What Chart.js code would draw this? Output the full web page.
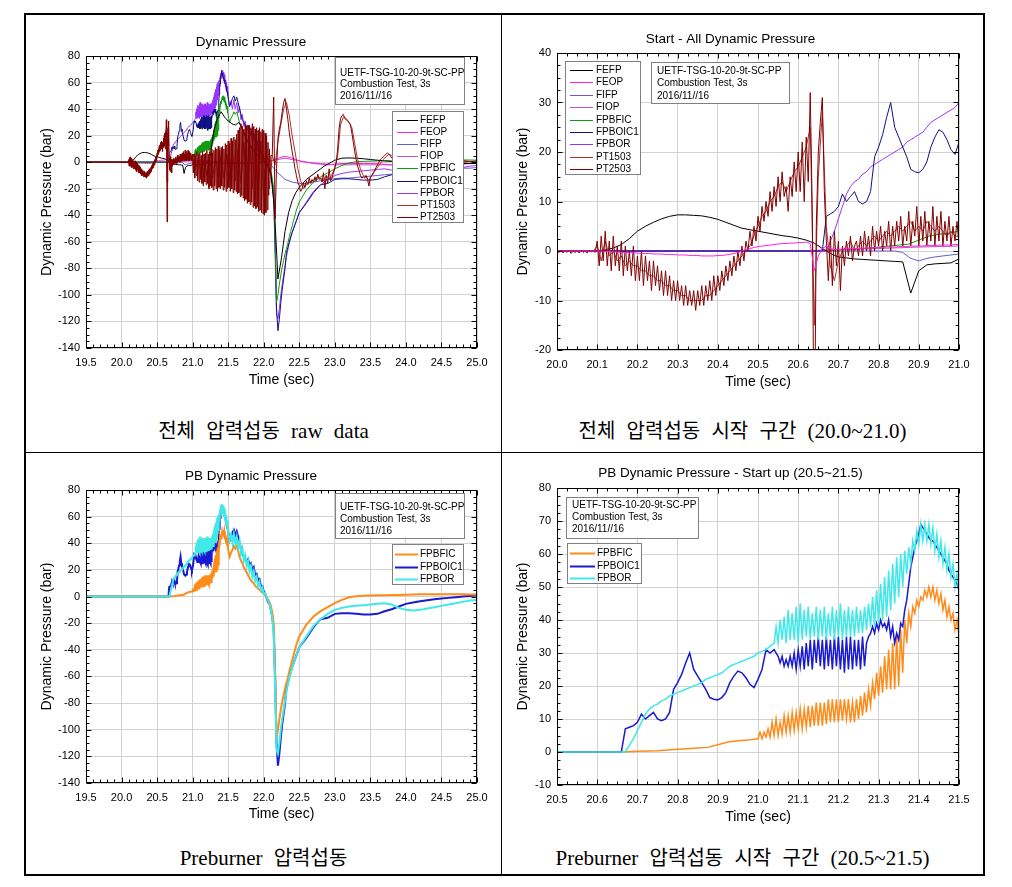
<!DOCTYPE html>
<html>
<head>
<meta charset="utf-8">
<script src="https://cdn.jsdelivr.net/npm/chart.js@4.4.1/dist/chart.umd.min.js"></script>
<style>
  body { margin: 0; background: #fff; }
  #page { position: relative; width: 1012px; height: 887px; overflow: hidden; background: #fff; }
  .rule { position: absolute; background: #000; }
  canvas { position: absolute; }
  .cap { position: absolute; text-align: center; font-size: 21px; line-height: 24px; word-spacing: 6px;
         font-family: "Liberation Serif", "Noto Sans CJK KR", serif; color: #000; }
  .cap .k { font-size: 20px; font-family: "Noto Sans CJK KR", serif; }
</style>
</head>
<body>
<div id="page">
  <div class="rule" style="left:25px;top:13px;width:959px;height:2px"></div>
  <div class="rule" style="left:25px;top:874px;width:959px;height:2px"></div>
  <div class="rule" style="left:24px;top:13px;width:2px;height:863px"></div>
  <div class="rule" style="left:983px;top:13px;width:2px;height:863px"></div>
  <div class="rule" style="left:501px;top:14px;width:1px;height:861px"></div>
  <div class="rule" style="left:25px;top:452px;width:959px;height:1px"></div>

  <canvas id="c1" width="477" height="400" style="left:25px;top:14px"></canvas>
  <canvas id="c2" width="481" height="400" style="left:502px;top:14px"></canvas>
  <canvas id="c3" width="477" height="380" style="left:25px;top:453px"></canvas>
  <canvas id="c4" width="481" height="380" style="left:502px;top:453px"></canvas>

  <div class="cap" style="left:25px;width:477px;top:418px"><span class="k">전체</span> <span class="k">압력섭동</span> raw data</div>
  <div class="cap" style="left:502px;width:481px;top:418px"><span class="k">전체</span> <span class="k">압력섭동</span> <span class="k">시작</span> <span class="k">구간</span> (20.0~21.0)</div>
  <div class="cap" style="left:25px;width:477px;top:845px">Preburner <span class="k">압력섭동</span></div>
  <div class="cap" style="left:502px;width:481px;top:845px">Preburner <span class="k">압력섭동</span> <span class="k">시작</span> <span class="k">구간</span> (20.5~21.5)</div>
</div>

<script>
// ---- data (bar), uniform sample segments: [start time, step, values] ----

// FPBFIC
const fpbficSlow = [0, 0, 0, 0, 0, 0, 0, 0.1, 0.2, 0.3, 0.4, 0.6, 0.8, 1.0, 1.2, 1.4, 2.2, 3.0, 3.4, 3.6]; // 20.500-20.975 / 0.025
const fpbficFast = [ // 21.000-21.500 / 0.005
  4, 6, 4, 6, 4.5, 7, 4.5, 9, 5, 10, 5, 9, 5.5, 11, 6, 11, 6, 12, 6.5, 12,
  7, 13, 7, 13, 7.5, 14, 7.5, 14, 8, 15, 8, 15, 8, 15, 8.5, 16, 9, 16, 9, 16,
  9, 16, 9.5, 16, 10, 16, 9, 15, 9, 16, 10, 17, 11, 18, 12, 19, 14, 21, 16, 24,
  17, 26, 18, 29, 19, 31, 19, 33, 19, 35, 20, 37, 24, 40, 33, 42, 38, 44, 42, 46,
  44, 47, 46, 49, 47, 50, 47, 50, 46, 49, 45, 48, 43, 46, 41, 44, 40, 42, 37, 40,
  35];
const fpbficDrop = [ // 21.52-22.50 / 0.02
  30, 33, 35, 38, 36, 38, 34, 30, 27, 25, 22, 20, 18, 16, 14, 12, 11, 10, 8, 7,
  6, 5, 4, 3, 2, 1, 0, -2, -4, -7, -12, -20, -56, -106, -100, -92, -85, -79, -74, -69,
  -65, -61, -56, -52, -48, -44, -40, -36, -33, -30];
const fpbficTail = [-21, -15, -11, -8, -5, -2.5, -0.5, 0.3, 0.6, 0.8, 0.9, 1, 1.1, 1.2, 1.4, 1.6, 1.7, 1.7, 1.8, 1.8, 1.8, 1.7, 1.7, 1.6, 1.5]; // 22.6-25.0 / 0.1

// FPBOIC1
const fpboic1Slow = [ // 20.50-21.04 / 0.01
  0, 0, 0, 0, 0, 0, 0, 0, 0, 0, 0, 0, 0, 0, 0, 0, 0,
  7, 7.5, 8, 9, 11.5, 10, 11, 12, 10, 9.5, 10, 12,
  19, 21, 23.5, 27, 30, 25, 23, 21, 19, 16.5, 16, 15.8, 16.5, 18, 21, 23, 24.5, 24, 22.5, 20.5, 19.5, 22, 25, 31, 30, 31];
const fpboic1Fast = [ // 21.050-21.500 / 0.005
  29, 27, 29, 26, 28, 26, 29, 26, 30, 25,
  31, 26, 32, 25, 33, 26, 34, 25, 34, 27,
  35, 26, 34, 25, 35, 26, 34, 25, 35, 26,
  35, 25, 34, 24, 35, 25, 35, 25, 34, 26,
  34, 25, 35, 26, 33, 35, 36, 38, 36, 39,
  37, 40, 38, 39, 37, 40, 35, 38, 33, 36,
  34, 39, 38, 43, 46, 51, 56, 59, 62, 64,
  66, 69, 68, 67, 66, 65, 64, 64, 63, 62,
  61, 60, 59, 58, 57, 55, 54, 53, 52, 51,
  49];
const fpboic1Drop = [ // 21.52-22.50 / 0.02
  42, 45, 48, 50, 46, 49, 45, 40, 36, 32, 30, 28, 26, 28, 24, 25, 20, 22, 16, 17,
  12, 13, 8, 8, 4, 2, -1, -4, -5, -10, -15, -25, -60, -110, -127, -118, -106, -96, -88, -80,
  -68, -64, -60, -56, -53, -50, -47, -44, -41, -38];
const fpboic1Tail = [-31, -23, -17, -16, -13, -12.5, -12.5, -13, -13.5, -13.5, -13, -11, -9.5, -7.5, -5.5, -4.5, -3.5, -2.8, -2, -1.5, -1, -0.5, 0, 0.5, 1];

// FPBOR
const fpborSlow = [ // 20.50-21.03 / 0.01
  0, 0, 0, 0, 0, 0, 0, 0, 0, 0, 0, 0, 0, 0, 0, 0, 0, 0,
  2, 4, 6.5, 9, 11.5, 13, 14, 14.5, 15.5, 16, 17, 17.5, 18, 18.5, 19, 19.5, 20, 20.5, 21, 22,
  22.5, 23, 23.5, 24, 25, 26, 26.5, 27, 27.5, 28, 28.5, 29, 30, 30.5, 31, 32];
const fpborFast = [ // 21.040-21.500 / 0.005
  33, 38, 33, 40, 34, 41, 33, 43, 34, 42, 34, 44, 33, 45, 34, 43, 35, 44, 34, 42,
  35, 44, 34, 43, 35, 44, 34, 42, 35, 44, 34, 43, 35, 45, 34, 43, 35, 44, 35, 43,
  35, 44, 36, 43, 36, 44, 37, 45, 38, 47, 38, 49, 39, 51, 40, 53, 41, 55, 43, 57,
  45, 59, 47, 60, 50, 61, 54, 62, 57, 64, 61, 67, 63, 69, 64, 69, 64, 69, 63, 68,
  61, 66, 59, 64, 57, 62, 55, 60, 53, 57, 50, 54, 48];
const fpborDrop = [ // 21.52-22.50 / 0.02
  42, 46, 40, 47, 40, 45, 37, 42, 32, 36, 27, 31, 23, 27, 19, 23, 15, 19, 12, 15,
  8, 11, 5, 7, 2, 3, -1, -3, -5, -10, -16, -28, -70, -115, -118, -110, -100, -92, -85, -78,
  -71, -66, -61, -57, -53, -50, -47, -44, -41, -38];
const fpborTail = [-30, -22, -17, -13, -10, -8.5, -7.5, -7, -6.5, -6, -5.5, -5, -6, -8.5, -10, -10.5, -10, -9, -8, -7, -6, -5, -4, -3, -2.5];

// PT2503
const pt2503Start = [ // 20.000-21.000 / 0.005
  0, -0.3, 0.2, -0.4, 0.1, -0.3, 0.2, -0.5, 0, -0.3,
  0.1, -0.4, 0.2, -0.3, 0, -0.4, 0.2, -0.2, 0.1, -0.3,
  2, -3, 3, -2, 4, -3, 2, -4, 3, -3,
  1, -4, 2, -5, 1, -4, 0, -5, 1, -6,
  -1, -6, 0, -7, -1, -6, -2, -8, -2, -7,
  -3, -8, -4, -9, -4, -9, -5, -10, -6, -10,
  -6, -10, -7, -11, -7, -11, -8, -11, -8, -12,
  -8, -11, -7, -11, -7, -10, -6, -10, -5, -9,
  -5, -8, -4, -7, -3, -6, -2, -5, -1, -4,
  0, -3, 1, -2, 2, 0, 4, 1, 5, 2,
  7, 4, 9, 6, 10, 7, 12, 8, 13, 9,
  15, 10, 16, 11, 13, 8, 15, 11, 18, 12,
  20, 12, 22, 10, 23, 14, 32, 8, -45, 5,
  20, 26, 31, 12, 2, -6, 3, -7, 4, -3,
  2, -8, 1, -3, 2, -1, 3, -2, 1, 2,
  -1, 3, -1, 4, 0, 3, -1, 5, 0, 4,
  1, 5, 0, 4, 1, 6, 0, 5, 1, 6,
  2, 7, 1, 5, 2, 8, 1, 6, 3, 9,
  1, 7, 2, 8, 1, 6, 2, 9, 1, 7,
  2, 8, 1, 6, 2, 7, 1, 5, 2, 6,
  1];
const pt2503Band = [ // 21.01-22.10 / 0.01
  -8, 6, -12, 5, -10, 8, -14, 6, -15, 7,
  -13, 5, -16, 8, -18, 6, -15, 7, -17, 9,
  -16, 6, -20, 8, -18, 10, -19, 7, -21, 9,
  -18, 11, -20, 10, -22, 12, -19, 9, -20, 11,
  -18, 12, -21, 10, -19, 14, -22, 13, -20, 16,
  -19, 14, -22, 18, -20, 16, -23, 19, -21, 17,
  -22, 21, -24, 24, -23, 26, -26, 29, -25, 27,
  -27, 25, -29, 28, -28, 26, -31, 27, -30, 28,
  -32, 26, -30, 29, -34, 27, -33, 25, -35, 26,
  -34, 24, -37, 26, -36, 23, -38, 25, -39, 24,
  -40, 22, -38, 20, -36, 15, -25, 10, -10, 5];
const pt2503Main = [ // 22.12-24.00 / 0.02
  5, 49, -43, -5, 18,
  25, 30, 38, 45, 48, 40, 32, 22, 15, 8,
  2, -5, -10, -15, -18, -22, -20, -16, -19, -14,
  -17, -12, -16, -13, -15, -11, -14, -9, -13, -12,
  -15, -8, -20, -10, -16, -5, -14, -12, -8, -4,
  0, 10, 25, 33, 35, 36, 33, 32, 31, 30,
  28, 22, 15, 8, 2, -3, -6, -10, -12, -11,
  -12, -10, -13, -18, -11, -10, -8, -6, -4, -2,
  0, 2, 3, 4, 5, 6, 7, 6, 5, 3,
  2, 1, 0.5, 0, 0, 0, -0.5, 0, 0, 0];
const pt2503Tail = [0, 0.5, 1, 1.5, 2, 2.5, 2, 1, 0.5, 0]; // 24.1-25.0 / 0.1

// PT1503
const pt1503Start = [ // 20.00-21.00 / 0.01
  0, 0, 0, 0, 0, 0, 0, 0, 0, 0,
  1, -2, 2, -1, 0, -2, -1, -3, -2, -3,
  -3, -4, -4, -5, -5, -6, -6, -7, -7, -8,
  -8, -9, -9, -10, -10, -10, -10, -9, -9, -8,
  -7, -6, -5, -4, -3, -2, -1, 0, 1, 3,
  5, 7, 8, 10, 11, 13, 14, 12, 14, 16,
  17, 19, 21, 25, -15, 15, 28, 5, -3, -6,
  -2, 0, 1, 2, 0, 1, 2, 1, 2, 3,
  2, 3, 4, 3, 4, 5, 4, 5, 6, 4,
  5, 4, 6, 5, 4, 5, 4, 3, 4, 3,
  3];
const pt1503Main = [ // 21.04-24.00 / 0.04
  -5, 3, -8, 2, -10, 4, -12, 3, -11, 5,
  -12, 6, -13, 8, -14, 10, -16, 15, -18, 18,
  -20, 18, -22, 16, -25, 14, -20, 5, -2, 15,
  28, 40, 45, 35, 20, 8, -5, -14, -20, -17,
  -15, -14, -13, -11, -12, -14, -10, -13, -9, -5,
  5, 28, 34, 33, 30, 26, 14, 2, -5, -10,
  -11, -14, -10, -7, -4, -1, 2, 4, 6, 5,
  3, 1, 0, 0, 0];
const pt1503Tail = [0, 0.4, 0.8, 1.2, 1.6, 2, 1.6, 1, 0.4, 0];

// FEFP
const fefpStart = [ // 20.12-21.00 / 0.02
  0.2, 0.6, 1.3, 2.5, 4.0, 5.0, 5.8, 6.5, 7.0, 7.3, 7.3, 7.2, 7.1, 6.8, 6.4, 5.8, 5.2, 4.6, 4.3, 4.0,
  3.7, 3.4, 3.1, 2.9, 2.6, 2.2, 1.6, 0.5, -0.5, -1.2, -1.4, -1.6, -1.7, -1.8, -1.9, -2.0, -2.1, -2.2, -8.5, -4.0,
  -2.8, -2.6, -2.5, -2.4, -1.6];
const fefpMid = [ // 21.05-23.00 / 0.05
  -2, -2, -1.5, -1, 5, 24, 33, 38, 34, 31, 29, 28, 30, 25, 18, 13, 9, 6, 3, 1,
  -2, -8, -35, -88, -72, -52, -38, -29, -23, -19, -16, -13, -11, -9, -7, -5, -3, -1.5, 0, 1.5];
const fefpTail = [3, 3.2, 3, 2.6, 2, 1.5, 1, 0.5, 0.2, 0, -0.2, -0.4, -0.5, -0.6, -0.7, -0.8, -0.9, -1, -1, -1]; // 23.1-25.0

// FEOP
const feopStart = [ // 20.00-21.00 / 0.01
  0, 0, 0, 0, 0, 0, 0, 0, 0, 0,
  0, 0, -0.1, -0.1, -0.2, -0.2, -0.3, -0.3, -0.3, -0.4,
  -0.4, -0.5, -0.5, -0.5, -0.6, -0.6, -0.6, -0.7, -0.7, -0.7,
  -0.8, -0.8, -0.8, -0.9, -0.9, -0.9, -1, -1, -1, -1,
  -0.9, -0.9, -0.8, -0.7, -0.5, -0.3, 0, 0.3, 0.5, 0.7,
  0.9, 1, 1.1, 1.2, 1.3, 1.4, 1.5, 1.5, 1.6, 1.6,
  1.7, 1.7, 1.8, 1.5, -4, -1, 0.5, 1, 0.5, 0.3,
  0.3, 0.4, 0.4, 0.5, 0.5, 0.5, 0.6, 0.6, 0.6, 0.7,
  0.7, 0.7, 0.8, 0.8, 0.8, 0.9, 0.9, 0.9, 1, 1,
  1, 1, 1.1, 1.1, 1.1, 1.2, 1.2, 1.2, 1.2, 1.3,
  1.3];
const feopTail = [ // 21.1-25.0 / 0.1
  1.2, 1, 0.5, 0, -0.5, -1, -1, -1, -0.5, 0, 1, 3, 4.5, 3, 1, 0, -1, -1.5, -2, -1.5,
  -1, -1, -1, -1, -1, -1.2, -1.5, -2, -2, -2, -2, -2, -2, -2, -2, -2, -2, -1.5, -1, -1];

// FIFP
const fifpStart = [0, 0, -0.3, -1.5, -2, -1.5, -1.2, -1, -0.8, -0.6]; // 20.82-21.00 / 0.02
const fifpTail = [ // 21.1-25.0 / 0.1
  -0.5, -0.5, -0.5, -0.5, -0.5, -0.5, -0.5, -0.5, -0.5, -0.5, -2, -8, -13, -15, -16, -16, -15, -14, -13, -12.5,
  -12, -12, -11.5, -11, -10.5, -10, -9.5, -9, -8.5, -8, -7.5, -7, -6.5, -6, -5.5, -5, -5, -4.5, -4.5, -4];

// FIOP
const fiopTail = [ // 20.7-25.0 / 0.1
  0.3, 0.5, 0.8, 1, 1, 0.8, 0.5, 0, -0.5, -0.5, -0.5, -0.5, 0, 0.5, 1, 2, 3, 2, 1, 0,
  -0.5, -1, -1.5, -2, -2, -2, -2, -2, -2, -2, -2, -2, -2, -2, -2, -2, -2, -2, -2, -1.5,
  -1.5, -1, -1, -1];

const channels = {
  FEFP: [[19.5, 0.6, [0, 0]], [20.12, 0.02, fefpStart], [21.05, 0.05, fefpMid], [23.1, 0.1, fefpTail]],
  FEOP: [[19.5, 0.5, [0]], [20.0, 0.01, feopStart], [21.1, 0.1, feopTail]],
  FIFP: [[19.5, 1.3, [0, 0]], [20.82, 0.02, fifpStart], [21.1, 0.1, fifpTail]],
  FIOP: [[19.5, 1.1, [0, 0]], [20.7, 0.1, fiopTail]],
  FPBFIC: [[19.5, 0.5, [0, 0]], [20.5, 0.025, fpbficSlow], [21.0, 0.005, fpbficFast], [21.52, 0.02, fpbficDrop], [22.6, 0.1, fpbficTail]],
  FPBOIC1: [[19.5, 0.5, [0, 0]], [20.5, 0.01, fpboic1Slow], [21.05, 0.005, fpboic1Fast], [21.52, 0.02, fpboic1Drop], [22.6, 0.1, fpboic1Tail]],
  FPBOR: [[19.5, 0.5, [0, 0]], [20.5, 0.01, fpborSlow], [21.04, 0.005, fpborFast], [21.52, 0.02, fpborDrop], [22.6, 0.1, fpborTail]],
  PT1503: [[19.5, 0.5, [0]], [20.0, 0.01, pt1503Start], [21.04, 0.04, pt1503Main], [24.1, 0.1, pt1503Tail]],
  PT2503: [[19.5, 0.5, [0]], [20.0, 0.005, pt2503Start], [21.01, 0.01, pt2503Band], [22.12, 0.02, pt2503Main], [24.1, 0.1, pt2503Tail]]
};

const ALL_CH = ['FEFP', 'FEOP', 'FIFP', 'FIOP', 'FPBFIC', 'FPBOIC1', 'FPBOR', 'PT1503', 'PT2503'];
const PB_CH = ['FPBFIC', 'FPBOIC1', 'FPBOR'];
const NOTE = ['UETF-TSG-10-20-9t-SC-PP', 'Combustion Test, 3s', '2016/11//16'];

// ---- styling ----
const FONT = '"Liberation Sans", Arial, sans-serif';
const allColors = {
  FEFP: '#000000', FEOP: '#ff22dd', FIFP: '#6a5acd', FIOP: '#c050c0', FPBFIC: '#109a10',
  FPBOIC1: '#101080', FPBOR: '#9933ff', PT1503: '#b03030', PT2503: '#800000'
};
const pbColors = { FPBFIC: '#ff8c1a', FPBOIC1: '#1a1ad0', FPBOR: '#40e8e8' };

function points(name) {
  const pts = [];
  channels[name].forEach(([t0, dt, vals]) => {
    vals.forEach((v, i) => pts.push({ x: +(t0 + i * dt).toFixed(4), y: v }));
  });
  return pts;
}

function dataset(name, color, width) {
  return { label: name, data: points(name), borderColor: color, borderWidth: width, pointRadius: 0, tension: 0, fill: false };
}

// Origin style frame: box, inward major/minor ticks on all sides, note and legend boxes
const originFrame = {
  id: 'originFrame',
  afterDatasetsDraw(chart, args, o) {
    const { ctx, chartArea: a, scales: { x, y } } = chart;
    const L = Math.round(a.left) + 0.5, R = Math.round(a.right) - 0.5;
    const T = Math.round(a.top) + 0.5, B = Math.round(a.bottom) - 0.5;
    const xs = x.ticks.map(t => x.getPixelForValue(t.value));
    const ys = y.ticks.map(t => y.getPixelForValue(t.value));

    ctx.save();
    ctx.strokeStyle = '#000';
    ctx.lineWidth = 1;
    ctx.beginPath();
    const mark = (pos, n, fn) => {
      pos.forEach((p, i) => {
        fn(Math.round(p) + 0.5, 5);
        if (i < pos.length - 1) {
          for (let j = 1; j < n; j++) fn(Math.round(p + (pos[i + 1] - p) * j / n) + 0.5, 3);
        }
      });
    };
    mark(xs, o.xMinor, (p, len) => { ctx.moveTo(p, B); ctx.lineTo(p, B - len); ctx.moveTo(p, T); ctx.lineTo(p, T + len); });
    mark(ys, o.yMinor, (p, len) => { ctx.moveTo(L, p); ctx.lineTo(L + len, p); ctx.moveTo(R, p); ctx.lineTo(R - len, p); });
    ctx.stroke();
    ctx.strokeRect(L, T, R - L, B - T);

    const ax = Math.round(a.left), ay = Math.round(a.top);
    const box = (b) => {
      ctx.fillStyle = '#fff';
      ctx.fillRect(ax + b.x, ay + b.y, b.w, b.h);
      ctx.strokeStyle = '#808080';
      ctx.lineWidth = 1;
      ctx.strokeRect(ax + b.x + 0.5, ay + b.y + 0.5, b.w, b.h);
    };
    ctx.font = '10px ' + FONT;
    ctx.textBaseline = 'middle';
    ctx.textAlign = 'left';

    const n = o.note;
    box(n);
    ctx.fillStyle = '#000';
    NOTE.forEach((s, i) => ctx.fillText(s, ax + n.tx, ay + n.ty + i * n.gap));

    const g = o.legend;
    box(g);
    g.items.forEach((name, i) => {
      const ds = chart.data.datasets.find(d => d.label === name);
      const yy = Math.round(ay + g.ty + i * g.gap) + 0.5;
      ctx.strokeStyle = ds.borderColor;
      ctx.lineWidth = g.lw;
      ctx.beginPath();
      ctx.moveTo(ax + g.lx0, yy);
      ctx.lineTo(ax + g.lx1, yy);
      ctx.stroke();
      ctx.fillStyle = '#000';
      ctx.fillText(name, ax + g.tx, yy);
    });
    ctx.restore();
  }
};

function makeChart(id, c) {
  return new Chart(document.getElementById(id), {
    type: 'line',
    data: { datasets: c.datasets },
    options: {
      animation: false,
      responsive: false,
      devicePixelRatio: 1,
      events: [],
      layout: { padding: { left: 0, top: 0, right: c.padR, bottom: c.padB } },
      plugins: {
        legend: { display: false },
        tooltip: { enabled: false },
        title: {
          display: true, text: c.title, color: '#000',
          font: { family: FONT, size: 13.5, weight: 'normal' }, padding: c.titlePad
        },
        originFrame: { xMinor: c.xMinor, yMinor: c.yMinor, note: c.note, legend: c.legend }
      },
      scales: {
        x: {
          type: 'linear', min: c.x[0], max: c.x[1],
          ticks: {
            stepSize: c.x[2], autoSkip: false, maxRotation: 0, padding: 8, color: '#000',
            font: { family: FONT, size: 11 }, callback: v => v.toFixed(1)
          },
          grid: { color: '#d2d2d2', drawTicks: false },
          border: { display: false },
          title: { display: true, text: 'Time (sec)', color: '#000', font: { family: FONT, size: 14 }, padding: { top: 0, bottom: c.xTitlePad } },
          afterFit: s => { s.height = c.xH; }
        },
        y: {
          min: c.y[0], max: c.y[1],
          ticks: { stepSize: c.y[2], padding: 6, color: '#000', font: { family: FONT, size: 11 } },
          grid: { color: '#d2d2d2', drawTicks: false },
          border: { display: false },
          title: { display: true, text: 'Dynamic Pressure (bar)', color: '#000', font: { family: FONT, size: 14 }, padding: { top: c.yTitlePad, bottom: 0 } },
          afterFit: s => { s.width = c.yW; }
        }
      }
    },
    plugins: [originFrame]
  });
}

// draw order: first dataset ends up on top
const order1 = ['PT2503', 'PT1503', 'FEFP', 'FPBFIC', 'FPBOIC1', 'FPBOR', 'FEOP', 'FIOP', 'FIFP'];
const order2 = ['FEOP', 'PT2503', 'PT1503', 'FEFP', 'FPBOIC1', 'FPBOR', 'FIOP', 'FIFP', 'FPBFIC'];

makeChart('c1', {
  title: 'Dynamic Pressure',
  datasets: order1.map(n => dataset(n, allColors[n], 1)),
  x: [19.5, 25, 0.5], y: [-140, 80, 20], xMinor: 5, yMinor: 4,
  padR: 25, padB: 16, yW: 61, xH: 50, titlePad: { top: 19.9, bottom: 5.9 }, yTitlePad: 13.6, xTitlePad: 9.6,
  note: { x: 249, y: 1, w: 129, h: 47, tx: 254, ty: 17, gap: 11.5 },
  legend: { x: 306, y: 55, w: 71, h: 111, lx0: 311, lx1: 332, tx: 334, ty: 64, gap: 12.1, lw: 1, items: ALL_CH }
});

makeChart('c2', {
  title: 'Start - All Dynamic Pressure',
  datasets: order2.map(n => dataset(n, allColors[n], 1)),
  x: [20.0, 21.0, 0.1], y: [-20, 40, 10], xMinor: 4, yMinor: 4,
  padR: 24, padB: 14, yW: 55, xH: 50, titlePad: { top: 16.9, bottom: 5.9 }, yTitlePad: 12.6, xTitlePad: 9.6,
  note: { x: 94, y: 9, w: 138, h: 41, tx: 100, ty: 18, gap: 12.5 },
  legend: { x: 8, y: 8, w: 75, h: 113, lx0: 13, lx1: 36, tx: 39, ty: 17, gap: 12.4, lw: 1, items: ALL_CH }
});

makeChart('c3', {
  title: 'PB Dynamic Pressure',
  datasets: ['FPBOR', 'FPBFIC', 'FPBOIC1'].map(n => dataset(n, pbColors[n], 2)),
  x: [19.5, 25, 0.5], y: [-140, 80, 20], xMinor: 5, yMinor: 4,
  padR: 25, padB: 0, yW: 61, xH: 50, titlePad: { top: 14.9, bottom: 5.9 }, yTitlePad: 13.6, xTitlePad: 10.6,
  note: { x: 249, y: 3, w: 129, h: 45, tx: 254, ty: 17, gap: 12 },
  legend: { x: 306, y: 54, w: 71, h: 40, lx0: 309, lx1: 332, tx: 334, ty: 64, gap: 12.5, lw: 2, items: PB_CH }
});

makeChart('c4', {
  title: 'PB Dynamic Pressure - Start up (20.5~21.5)',
  datasets: ['FPBOR', 'FPBOIC1', 'FPBFIC'].map(n => dataset(n, pbColors[n], 1.5)),
  x: [20.5, 21.5, 0.1], y: [-10, 80, 10], xMinor: 4, yMinor: 4,
  padR: 24, padB: 0, yW: 55, xH: 48, titlePad: { top: 11.9, bottom: 6.9 }, yTitlePad: 12.6, xTitlePad: 7.6,
  note: { x: 9, y: 9, w: 132, h: 41, tx: 15, ty: 17, gap: 12 },
  legend: { x: 10, y: 55, w: 74, h: 40, lx0: 13, lx1: 38, tx: 40, ty: 65, gap: 12.5, lw: 2, items: PB_CH }
});
</script>
</body>
</html>
